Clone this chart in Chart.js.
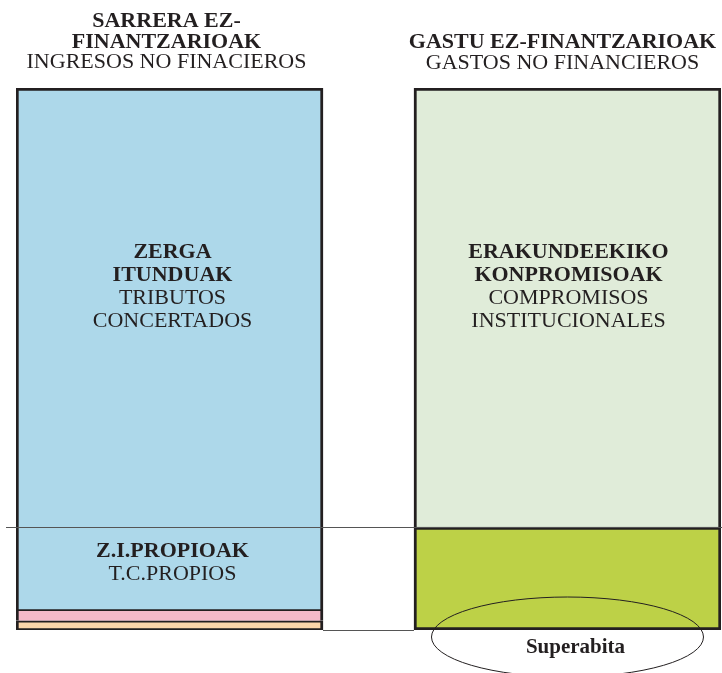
<!DOCTYPE html>
<html>
<head>
<meta charset="utf-8">
<script src="https://cdn.jsdelivr.net/npm/chart.js@4"></script>
<style>
  html, body { margin: 0; padding: 0; background: #fff; overflow: hidden; }
  #wrap { width: 722px; height: 673px; position: relative; }
</style>
</head>
<body>
<div id="wrap"><canvas id="budgetChart"></canvas></div>
<script>
// columns: 0 = ingresos, 1 = gastos (share of total, %)
const columns = ['SARRERA EZ-FINANTZARIOAK', 'GASTU EZ-FINANTZARIOAK'];
const ingresoLabels = ['Otros 2', 'Otros 1', 'T.C.PROPIOS', 'TRIBUTOS CONCERTADOS'];
const ingresoValues = [1.7, 1.8, 15.5, 81.0];
const gastoLabels = ['Superabita', 'COMPROMISOS INSTITUCIONALES'];
const gastoValues = [19.0, 81.0];

const ink = '#231f20';
const serif = '"Liberation Serif", "Times New Roman", serif';

function seg(label, col, value, color, border) {
    return {
        label: label,
        data: [{ x: col, y: value }],
        backgroundColor: color,
        borderColor: ink,
        borderWidth: border,
        borderSkipped: false,
        barThickness: 307
    };
}

const datasets = [
    seg(ingresoLabels[0], 0, ingresoValues[0], '#fcd6aa', { top: 2, bottom: 2, left: 3, right: 3 }),
    seg(ingresoLabels[1], 0, ingresoValues[1], '#f4b9c9', { top: 0, bottom: 0, left: 3, right: 3 }),
    seg(ingresoLabels[2], 0, ingresoValues[2], '#add8ea', { top: 0, bottom: 2, left: 3, right: 3 }),
    seg(ingresoLabels[3], 0, ingresoValues[3], '#add8ea', { top: 3, bottom: 0, left: 3, right: 3 }),
    seg(gastoLabels[0], 1, gastoValues[0], '#bdd147', { top: 3, bottom: 3, left: 3, right: 3 }),
    seg(gastoLabels[1], 1, gastoValues[1], '#e0ecd9', { top: 3, bottom: 0, left: 3, right: 3 })
];

function lines(ctx, x, y0, pitch, items) {
    ctx.textAlign = 'center';
    ctx.textBaseline = 'alphabetic';
    items.forEach(function (it, i) {
        ctx.font = (it[1] ? 'bold ' : '') + '22px ' + serif;
        ctx.fillText(it[0], x, y0 + i * pitch);
    });
}

const annotations = {
    id: 'annotations',
    afterDatasetsDraw(chart) {
        const ctx = chart.ctx;
        const y = chart.scales.y;
        const barL = chart.getDatasetMeta(3).data[0];
        const barR = chart.getDatasetMeta(4).data[0];
        const halfW = barL.width / 2;
        ctx.save();
        // reference lines
        ctx.strokeStyle = '#555';
        ctx.lineWidth = 1;
        const yMid = Math.round(y.getPixelForValue(ingresoValues[0] + ingresoValues[1] + ingresoValues[2])) + 0.5;
        ctx.beginPath();
        ctx.moveTo(6, yMid);
        ctx.lineTo(722, yMid);
        ctx.stroke();
        const yZero = Math.round(y.getPixelForValue(0)) + 0.5;
        ctx.beginPath();
        ctx.moveTo(barL.x + halfW, yZero);
        ctx.lineTo(barR.x - halfW, yZero);
        ctx.stroke();

        ctx.fillStyle = ink;
        // column titles
        lines(ctx, barL.x - 3, 27, 20.5, [['SARRERA EZ-', true], ['FINANTZARIOAK', true], ['INGRESOS NO FINACIEROS', false]]);
        lines(ctx, barR.x - 5, 48, 21, [['GASTU EZ-FINANTZARIOAK', true], ['GASTOS NO FINANCIEROS', false]]);

        // segment labels
        const mid = function (m) { return (m.y + m.base) / 2; };
        lines(ctx, barL.x + 3, mid(barL) - 50, 23, [['ZERGA', true], ['ITUNDUAK', true], ['TRIBUTOS', false], ['CONCERTADOS', false]]);
        const propios = chart.getDatasetMeta(2).data[0];
        lines(ctx, propios.x + 3, mid(propios) - 12, 23, [['Z.I.PROPIOAK', true], ['T.C.PROPIOS', false]]);
        const comp = chart.getDatasetMeta(5).data[0];
        lines(ctx, comp.x + 1, mid(comp) - 50, 23, [['ERAKUNDEEKIKO', true], ['KONPROMISOAK', true], ['COMPROMISOS', false], ['INSTITUCIONALES', false]]);

        // superavit ellipse
        ctx.strokeStyle = ink;
        ctx.lineWidth = 1;
        ctx.beginPath();
        ctx.ellipse(barR.x, barR.base + 7, 136, 40, 0, 0, Math.PI * 2);
        ctx.stroke();
        ctx.font = 'bold 21px ' + serif;
        ctx.textAlign = 'center';
        ctx.fillText('Superabita', barR.x + 8, barR.base + 23);
        ctx.restore();
    }
};

new Chart(document.getElementById('budgetChart'), {
    type: 'bar',
    data: { datasets: datasets },
    options: {
        responsive: true,
        maintainAspectRatio: false,
        animation: false,
        layout: { padding: { top: 88, bottom: 43, left: 16, right: 1 } },
        scales: {
            x: { type: 'linear', stacked: true, display: false, offset: false, min: -0.3857, max: 1.3857 },
            y: { stacked: true, display: false, min: 0, max: 100 }
        },
        plugins: {
            legend: { display: false },
            tooltip: { enabled: false }
        }
    },
    plugins: [annotations]
});
</script>
</body>
</html>
